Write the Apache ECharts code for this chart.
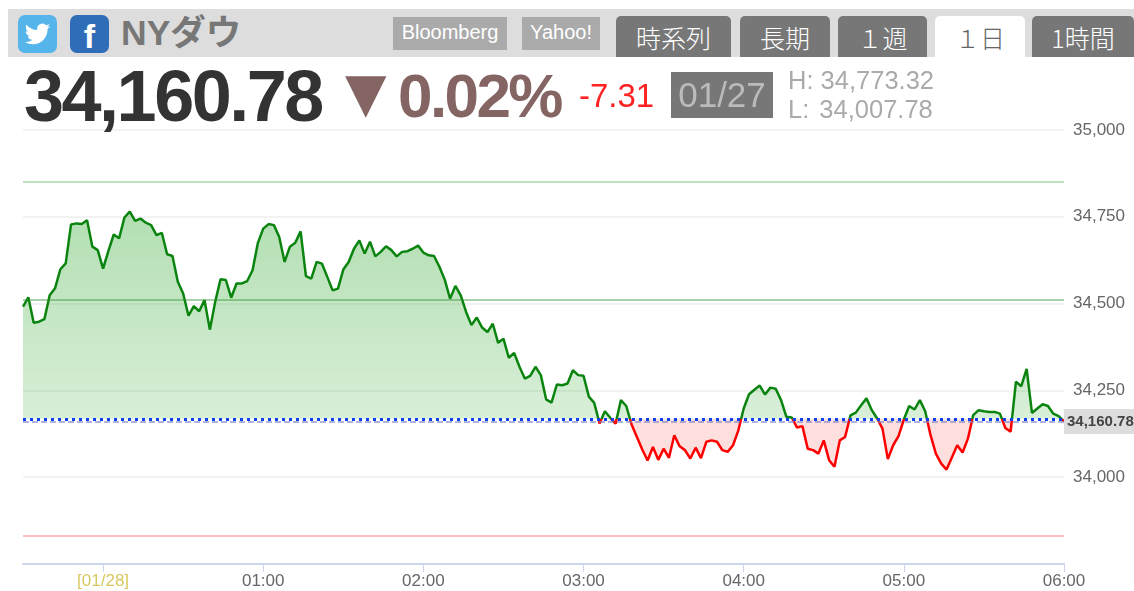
<!DOCTYPE html>
<html>
<head>
<meta charset="utf-8">
<title>NYダウ</title>
<script src="https://cdn.jsdelivr.net/npm/echarts@6/dist/echarts.min.js"></script>
<style>
html, body { margin: 0; padding: 0; background: #fff; overflow: hidden; }
body { width: 1134px; height: 591px; position: relative; font-family: "Liberation Sans", "Noto Sans CJK JP", sans-serif; }
#chart { position: absolute; left: 0; top: 0; width: 1134px; height: 591px; }
.abs { position: absolute; white-space: nowrap; }
#bar { left: 8px; top: 9px; width: 1126px; height: 48px; background: #ddd; }
.icon { top: 15px; width: 39px; height: 38px; border-radius: 7px; }
.src { top: 17px; height: 33px; line-height: 31px; background: #aaa; color: #fff; font-size: 20px; text-align: center; }
.tab { top: 16px; height: 41px; line-height: 42px; background: #777; color: #fff; font-size: 25px; text-align: center; border-radius: 5px 5px 0 0; font-family: "Noto Sans CJK JP", sans-serif; font-weight: 300; }
.tab.on { background: #fff; color: #666; }
</style>
</head>
<body>
<div id="chart"></div>

<div class="abs" id="bar"></div>
<div class="abs icon" style="left:18px;background:#55b4ea;">
  <svg width="39" height="38" viewBox="-6 -6 36 36"><path fill="#fff" d="M23.953 4.57a10 10 0 01-2.825.775 4.958 4.958 0 002.163-2.723c-.951.555-2.005.959-3.127 1.184a4.92 4.92 0 00-8.384 4.482C7.69 8.095 4.067 6.13 1.64 3.162a4.822 4.822 0 00-.666 2.475c0 1.71.87 3.213 2.188 4.096a4.904 4.904 0 01-2.228-.616v.06a4.923 4.923 0 003.946 4.827 4.996 4.996 0 01-2.212.085 4.936 4.936 0 004.604 3.417 9.867 9.867 0 01-6.102 2.105c-.39 0-.779-.023-1.17-.067a13.995 13.995 0 007.557 2.209c9.053 0 13.998-7.496 13.998-13.985 0-.21 0-.42-.015-.63A9.935 9.935 0 0024 4.59z"/></svg>
</div>
<div class="abs icon" style="left:70px;background:#2f6db8;color:#fff;font:bold 34px/42px 'Liberation Sans';text-align:center;">f</div>
<div class="abs" style="left:121px;top:10px;font-size:35.5px;line-height:46px;font-weight:bold;color:#777;">NYダウ</div>
<div class="abs src" style="left:393px;width:114px;">Bloomberg</div>
<div class="abs src" style="left:522px;width:78px;">Yahoo!</div>
<div class="abs tab" style="left:616px;width:115px;">時系列</div>
<div class="abs tab" style="left:740px;width:90px;">長期</div>
<div class="abs tab" style="left:838px;width:89px;">１週</div>
<div class="abs tab on" style="left:935px;width:90px;">１日</div>
<div class="abs tab" style="left:1032px;width:102px;">1時間</div>

<div class="abs" style="left:24px;top:56px;font-size:72px;line-height:80px;font-weight:bold;color:#333;letter-spacing:-2.5px;">34,160.78</div>
<div class="abs" style="left:345px;top:58px;font-size:54px;line-height:70px;color:#856464;font-family:'DejaVu Sans';">▼</div>
<div class="abs" style="left:398px;top:60px;font-size:62px;line-height:72px;font-weight:bold;color:#856464;letter-spacing:-2.6px;">0.02%</div>
<div class="abs" style="left:579px;top:76px;font-size:33px;line-height:40px;color:#f22;">-7.31</div>
<div class="abs" style="left:671px;top:72px;width:102px;height:46px;line-height:46px;background:#777;color:#bbb;font-size:35px;text-align:center;">01/27</div>
<div class="abs" style="left:788px;top:65px;font-size:25.5px;line-height:30px;color:#aaa;">H: 34,773.32</div>
<div class="abs" style="left:788px;top:94px;font-size:25.5px;line-height:30px;color:#aaa;">L:&nbsp;<span style="margin-left:3px;">34,007.78</span></div>

<script>
// 値は画像から読み取り (2分足)
const prices = [
  34491, 34518, 34445, 34448, 34455, 34524, 34544, 34599, 34616, 34728,
  34731, 34729, 34740, 34664, 34654, 34601, 34652, 34699, 34688, 34748,
  34765, 34738, 34745, 34733, 34726, 34697, 34704, 34642, 34637, 34563,
  34529, 34465, 34493, 34478, 34510, 34425, 34505, 34570, 34568, 34517,
  34558, 34558, 34565, 34596, 34675, 34716, 34729, 34726, 34692, 34620,
  34664, 34675, 34708, 34579, 34572, 34620, 34615, 34577, 34538, 34543,
  34598, 34620, 34658, 34682, 34644, 34678, 34636, 34649, 34665, 34654,
  34636, 34649, 34651, 34658, 34667, 34647, 34639, 34637, 34606, 34569,
  34514, 34551, 34524, 34476, 34438, 34460, 34431, 34418, 34442, 34387,
  34399, 34344, 34358, 34318, 34284, 34292, 34318, 34294, 34224, 34215,
  34267, 34265, 34270, 34308, 34294, 34292, 34232, 34214, 34155, 34190,
  34171, 34154, 34222, 34205, 34152, 34116, 34080, 34048, 34087, 34050,
  34082, 34056, 34121, 34089, 34078, 34054, 34085, 34055, 34102, 34106,
  34102, 34078, 34073, 34092, 34135, 34198, 34239, 34252, 34264, 34238,
  34258, 34255, 34222, 34174, 34172, 34143, 34147, 34082, 34078, 34068,
  34106, 34049, 34030, 34106, 34116, 34178, 34186, 34207, 34227, 34193,
  34169, 34140, 34052, 34092, 34118, 34166, 34205, 34195, 34222, 34190,
  34121, 34068, 34039, 34022, 34057, 34092, 34071, 34111, 34179, 34193,
  34190, 34188, 34188, 34183, 34142, 34131, 34275, 34262, 34312, 34185,
  34198, 34210, 34205, 34183, 34176, 34161
];
const times = [];
for (let m = 23 * 60 + 30; m <= 30 * 60; m += 2) {
  const h = Math.floor(m / 60) % 24;
  times.push(String(h).padStart(2, '0') + ':' + String(m % 60).padStart(2, '0'));
}
const prevClose = 34168.09;
const lastPrice = 34160.78;
const upperBand = 34850;
const middleBand = 34512;
const lowerBand = 33830;
const yMin = 33750;
const yMax = 35000;
const dateLabel = '[01/28]';

const gridTop = 130;
const gridHeight = 434;
const yPixel = (v) => gridTop + (yMax - v) / (yMax - yMin) * gridHeight;

// 前日終値の上は緑のグラデーション、下は薄い赤
const fillTop = yPixel(34773);
const fillBottom = yPixel(34000);
const split = (yPixel(prevClose) - fillTop) / (fillBottom - fillTop);

const chart = echarts.init(document.getElementById('chart'));
chart.setOption({
  animation: false,
  grid: { left: 23, right: 70, top: gridTop, height: gridHeight },
  xAxis: {
    type: 'category',
    data: times,
    boundaryGap: false,
    axisLine: { lineStyle: { color: '#ccd6eb', width: 2 } },
    axisTick: {
      length: 8,
      lineStyle: { color: '#ccd6eb' },
      interval: (i, v) => v.endsWith(':00')
    },
    axisLabel: {
      interval: (i, v) => v.endsWith(':00'),
      fontFamily: 'Liberation Sans',
      fontSize: 17,
      color: '#666',
      margin: 9,
      formatter: (v) => (v === '00:00' ? '{d|' + dateLabel + '}' : v),
      rich: { d: { color: '#d8c860', fontSize: 17, fontFamily: 'Liberation Sans' } }
    },
    splitLine: { show: false }
  },
  yAxis: {
    type: 'value',
    position: 'right',
    min: yMin,
    max: yMax,
    interval: 250,
    axisLine: { show: false },
    axisTick: { show: false },
    splitLine: { lineStyle: { color: '#f2f2f2', width: 2 } },
    axisLabel: {
      showMinLabel: false,
      margin: 9,
      fontFamily: 'Liberation Sans',
      fontSize: 17,
      color: '#666',
      padding: [5, 0, 0, 0],
      formatter: (v) => v.toLocaleString('en-US')
    }
  },
  visualMap: {
    show: false,
    type: 'piecewise',
    dimension: 1,
    seriesIndex: 0,
    pieces: [
      { gte: prevClose, lte: yMax, color: '#0a840f' },
      { gte: yMin, lt: prevClose, color: '#ff0000' }
    ]
  },
  series: [{
    name: 'NYダウ',
    type: 'line',
    data: prices,
    showSymbol: false,
    lineStyle: { width: 2.5 },
    areaStyle: {
      origin: prevClose,
      opacity: 1,
      color: new echarts.graphic.LinearGradient(0, fillTop, 0, fillBottom, [
        { offset: 0, color: 'rgba(40,165,40,0.36)' },
        { offset: split, color: 'rgba(40,165,40,0.18)' },
        { offset: split, color: 'rgba(255,60,60,0.17)' },
        { offset: 1, color: 'rgba(255,60,60,0.17)' }
      ], true)
    },
    markLine: {
      silent: true,
      symbol: 'none',
      animation: false,
      label: { show: false },
      data: [
        { yAxis: upperBand, lineStyle: { color: '#bfe3bf', width: 2, type: 'solid' } },
        { yAxis: middleBand, lineStyle: { color: 'rgba(40,140,40,0.4)', width: 2, type: 'solid' } },
        { yAxis: lowerBand, lineStyle: { color: '#ffc0c0', width: 2, type: 'solid' } },
        {
          yAxis: lastPrice,
          lineStyle: { color: 'rgba(120,130,190,0.6)', width: 2, type: [6, 3] },
          label: {
            show: true,
            position: 'end',
            distance: 0,
            formatter: '34,160.78',
            fontFamily: 'Liberation Sans',
            fontWeight: 'bold',
            fontSize: 15,
            color: '#444',
            backgroundColor: '#ddd',
            padding: [5, 6, 5, 3]
          }
        },
        { yAxis: prevClose, lineStyle: { color: '#1040f0', width: 3, type: [3, 4] } }
      ]
    }
  }]
});
</script>
</body>
</html>
